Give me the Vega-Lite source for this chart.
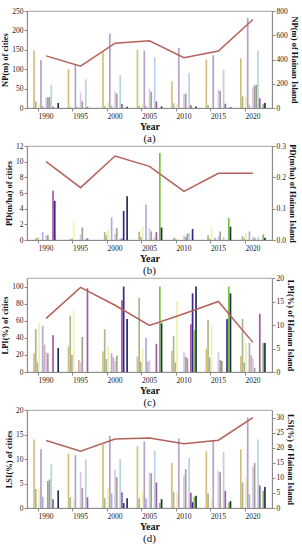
{
  "$schema": "https://vega.github.io/schema/vega-lite/v6.json",
  "padding": {"left": 0, "top": 6, "right": 0, "bottom": 0},
  "spacing": 38,
  "bounds": "flush",
  "config": {
    "font": "Liberation Serif",
    "view": {"stroke": "#8a8a8a", "strokeWidth": 0.8},
    "axis": {"labelFont": "Liberation Serif", "titleFont": "Liberation Serif", "labelFontSize": 7.5, "titleFontSize": 8.5, "titleFontWeight": "bold", "labelColor": "#222222", "titleColor": "#111111", "domainColor": "#8a8a8a", "tickColor": "#8a8a8a", "tickSize": 3, "grid": false, "labelPadding": 1, "titlePadding": 2},
    "title": {"font": "Liberation Serif", "fontSize": 11, "fontWeight": "normal", "orient": "bottom", "offset": 1, "color": "#111111"},
    "bar": {"stroke": null}
  },
  "datasets": {
    "aBars": [
      {"y":"1990","c":"01","v":148},{"y":"1990","c":"02","v":17},{"y":"1990","c":"04","v":10},{"y":"1990","c":"05","v":124},{"y":"1990","c":"06","v":5},{"y":"1990","c":"08","v":27},{"y":"1990","c":"09","v":28},{"y":"1990","c":"10","v":28},{"y":"1990","c":"11","v":60},{"y":"1990","c":"12","v":3},{"y":"1990","c":"15","v":13},
      {"y":"1995","c":"01","v":100},{"y":"1995","c":"02","v":3},{"y":"1995","c":"05","v":112},{"y":"1995","c":"06","v":3},{"y":"1995","c":"08","v":40},{"y":"1995","c":"09","v":17},{"y":"1995","c":"11","v":74},{"y":"1995","c":"12","v":3},
      {"y":"2000","c":"01","v":145},{"y":"2000","c":"02","v":5},{"y":"2000","c":"04","v":15},{"y":"2000","c":"05","v":192},{"y":"2000","c":"06","v":6},{"y":"2000","c":"08","v":43},{"y":"2000","c":"09","v":37},{"y":"2000","c":"11","v":85},{"y":"2000","c":"12","v":10},{"y":"2000","c":"15","v":3},
      {"y":"2005","c":"01","v":150},{"y":"2005","c":"02","v":5},{"y":"2005","c":"04","v":10},{"y":"2005","c":"05","v":148},{"y":"2005","c":"06","v":5},{"y":"2005","c":"08","v":50},{"y":"2005","c":"09","v":42},{"y":"2005","c":"11","v":130},{"y":"2005","c":"12","v":17},{"y":"2005","c":"15","v":4},
      {"y":"2010","c":"01","v":68},{"y":"2010","c":"02","v":12},{"y":"2010","c":"04","v":10},{"y":"2010","c":"05","v":155},{"y":"2010","c":"08","v":37},{"y":"2010","c":"09","v":37},{"y":"2010","c":"11","v":90},{"y":"2010","c":"12","v":7},{"y":"2010","c":"15","v":4},
      {"y":"2015","c":"01","v":125},{"y":"2015","c":"02","v":8},{"y":"2015","c":"04","v":5},{"y":"2015","c":"05","v":136},{"y":"2015","c":"08","v":48},{"y":"2015","c":"09","v":44},{"y":"2015","c":"11","v":98},{"y":"2015","c":"12","v":11},{"y":"2015","c":"15","v":2},
      {"y":"2020","c":"01","v":128},{"y":"2020","c":"02","v":30},{"y":"2020","c":"04","v":29},{"y":"2020","c":"05","v":232},{"y":"2020","c":"06","v":8},{"y":"2020","c":"08","v":53},{"y":"2020","c":"09","v":58},{"y":"2020","c":"10","v":60},{"y":"2020","c":"11","v":148},{"y":"2020","c":"12","v":25},{"y":"2020","c":"14","v":10},{"y":"2020","c":"15","v":13}
    ],
    "aLine": [{"y":"1990","v":430},{"y":"1995","v":345},{"y":"2000","v":535},{"y":"2005","v":555},{"y":"2010","v":415},{"y":"2015","v":470},{"y":"2020","v":730}],
    "bBars": [
      {"y":"1990","c":"02","v":0.2},{"y":"1990","c":"03","v":0.3},{"y":"1990","c":"04","v":0.4},{"y":"1990","c":"06","v":1.0},{"y":"1990","c":"08","v":0.6},{"y":"1990","c":"09","v":0.6},{"y":"1990","c":"12","v":6.3},{"y":"1990","c":"13","v":5.0},
      {"y":"1995","c":"02","v":0.1},{"y":"1995","c":"03","v":0.2},{"y":"1995","c":"04","v":2.4},{"y":"1995","c":"08","v":0.7},{"y":"1995","c":"09","v":1.6},{"y":"1995","c":"11","v":0.2},{"y":"1995","c":"12","v":0.2},
      {"y":"2000","c":"02","v":1.0},{"y":"2000","c":"03","v":0.6},{"y":"2000","c":"04","v":1.3},{"y":"2000","c":"06","v":2.9},{"y":"2000","c":"08","v":0.8},{"y":"2000","c":"09","v":1.5},{"y":"2000","c":"11","v":0.3},{"y":"2000","c":"12","v":0.2},{"y":"2000","c":"13","v":3.7},{"y":"2000","c":"15","v":5.6},
      {"y":"2005","c":"02","v":1.1},{"y":"2005","c":"03","v":0.4},{"y":"2005","c":"04","v":1.7},{"y":"2005","c":"06","v":4.5},{"y":"2005","c":"08","v":1.5},{"y":"2005","c":"09","v":1.1},{"y":"2005","c":"11","v":0.4},{"y":"2005","c":"12","v":1.0},{"y":"2005","c":"14","v":11.1},{"y":"2005","c":"15","v":1.6},
      {"y":"2010","c":"02","v":0.3},{"y":"2010","c":"03","v":0.2},{"y":"2010","c":"04","v":0.3},{"y":"2010","c":"08","v":0.6},{"y":"2010","c":"09","v":0.4},{"y":"2010","c":"10","v":0.8},{"y":"2010","c":"11","v":0.9},{"y":"2010","c":"13","v":1.4},
      {"y":"2015","c":"02","v":0.6},{"y":"2015","c":"03","v":0.2},{"y":"2015","c":"04","v":1.7},{"y":"2015","c":"06","v":0.3},{"y":"2015","c":"08","v":0.5},{"y":"2015","c":"09","v":1.1},{"y":"2015","c":"11","v":0.4},{"y":"2015","c":"14","v":2.8},{"y":"2015","c":"15","v":1.7},
      {"y":"2020","c":"02","v":0.5},{"y":"2020","c":"03","v":0.2},{"y":"2020","c":"04","v":0.9},{"y":"2020","c":"06","v":1.1},{"y":"2020","c":"08","v":0.4},{"y":"2020","c":"09","v":0.3},{"y":"2020","c":"11","v":0.4},{"y":"2020","c":"14","v":0.7},{"y":"2020","c":"15","v":0.3}
    ],
    "bLine": [{"y":"1990","v":0.25},{"y":"1995","v":0.167},{"y":"2000","v":0.268},{"y":"2005","v":0.235},{"y":"2010","v":0.155},{"y":"2015","v":0.213},{"y":"2020","v":0.213}],
    "cBars": [
      {"y":"1990","c":"01","v":22},{"y":"1990","c":"02","v":50},{"y":"1990","c":"03","v":11},{"y":"1990","c":"04","v":57},{"y":"1990","c":"06","v":54},{"y":"1990","c":"07","v":32},{"y":"1990","c":"08","v":23},{"y":"1990","c":"09","v":22},{"y":"1990","c":"12","v":43},{"y":"1990","c":"15","v":28},
      {"y":"1995","c":"01","v":30},{"y":"1995","c":"02","v":66},{"y":"1995","c":"03","v":20},{"y":"1995","c":"04","v":72},{"y":"1995","c":"07","v":14},{"y":"1995","c":"08","v":11},{"y":"1995","c":"09","v":41},{"y":"1995","c":"12","v":98},
      {"y":"2000","c":"01","v":24},{"y":"2000","c":"02","v":50},{"y":"2000","c":"03","v":15},{"y":"2000","c":"04","v":30},{"y":"2000","c":"06","v":22},{"y":"2000","c":"07","v":17},{"y":"2000","c":"08","v":13},{"y":"2000","c":"09","v":19},{"y":"2000","c":"12","v":84},{"y":"2000","c":"13","v":100},{"y":"2000","c":"15","v":62},
      {"y":"2005","c":"01","v":18},{"y":"2005","c":"02","v":87},{"y":"2005","c":"03","v":12},{"y":"2005","c":"04","v":27},{"y":"2005","c":"06","v":40},{"y":"2005","c":"07","v":12},{"y":"2005","c":"08","v":14},{"y":"2005","c":"12","v":33},{"y":"2005","c":"14","v":100},{"y":"2005","c":"15","v":57},
      {"y":"2010","c":"01","v":25},{"y":"2010","c":"02","v":42},{"y":"2010","c":"03","v":11},{"y":"2010","c":"04","v":83},{"y":"2010","c":"08","v":23},{"y":"2010","c":"09","v":18},{"y":"2010","c":"10","v":16},{"y":"2010","c":"12","v":56},{"y":"2010","c":"13","v":92},{"y":"2010","c":"14","v":49},{"y":"2010","c":"15","v":100},
      {"y":"2015","c":"01","v":27},{"y":"2015","c":"02","v":61},{"y":"2015","c":"03","v":17},{"y":"2015","c":"04","v":55},{"y":"2015","c":"08","v":23},{"y":"2015","c":"09","v":14},{"y":"2015","c":"10","v":13},{"y":"2015","c":"13","v":62},{"y":"2015","c":"14","v":100},{"y":"2015","c":"15","v":92},
      {"y":"2020","c":"01","v":19},{"y":"2020","c":"02","v":62},{"y":"2020","c":"03","v":11},{"y":"2020","c":"04","v":34},{"y":"2020","c":"06","v":34},{"y":"2020","c":"07","v":20},{"y":"2020","c":"08","v":16},{"y":"2020","c":"09","v":5},{"y":"2020","c":"12","v":68},{"y":"2020","c":"14","v":34},{"y":"2020","c":"15","v":34}
    ],
    "cLine": [{"y":"1990","v":11.4},{"y":"1995","v":18},{"y":"2000","v":14.2},{"y":"2005","v":9.9},{"y":"2010","v":12.4},{"y":"2015","v":15},{"y":"2020","v":6.3}],
    "dBars": [
      {"y":"1990","c":"01","v":14},{"y":"1990","c":"02","v":3.9},{"y":"1990","c":"04","v":3.9},{"y":"1990","c":"05","v":12},{"y":"1990","c":"06","v":2.3},{"y":"1990","c":"09","v":5.5},{"y":"1990","c":"10","v":5.8},{"y":"1990","c":"11","v":9},{"y":"1990","c":"12","v":1.8},{"y":"1990","c":"15","v":3.6},
      {"y":"1995","c":"01","v":11.1},{"y":"1995","c":"02","v":2.2},{"y":"1995","c":"04","v":1.7},{"y":"1995","c":"05","v":10.8},{"y":"1995","c":"08","v":7.4},{"y":"1995","c":"09","v":4.1},{"y":"1995","c":"11","v":9.9},{"y":"1995","c":"12","v":2.2},
      {"y":"2000","c":"01","v":13},{"y":"2000","c":"02","v":2},{"y":"2000","c":"04","v":4.2},{"y":"2000","c":"05","v":14.7},{"y":"2000","c":"06","v":3},{"y":"2000","c":"08","v":7.8},{"y":"2000","c":"09","v":6.3},{"y":"2000","c":"11","v":10},{"y":"2000","c":"12","v":3.2},{"y":"2000","c":"13","v":1.0},{"y":"2000","c":"15","v":2.0},
      {"y":"2005","c":"01","v":12.6},{"y":"2005","c":"02","v":2},{"y":"2005","c":"04","v":3.4},{"y":"2005","c":"05","v":13.6},{"y":"2005","c":"06","v":2},{"y":"2005","c":"08","v":7.3},{"y":"2005","c":"09","v":7.1},{"y":"2005","c":"11","v":11.7},{"y":"2005","c":"12","v":5.2},{"y":"2005","c":"14","v":1},{"y":"2005","c":"15","v":1.8},
      {"y":"2010","c":"01","v":9.2},{"y":"2010","c":"02","v":3.3},{"y":"2010","c":"04","v":3.2},{"y":"2010","c":"05","v":14.2},{"y":"2010","c":"08","v":6.7},{"y":"2010","c":"09","v":7.9},{"y":"2010","c":"11","v":10.2},{"y":"2010","c":"12","v":3.1},{"y":"2010","c":"13","v":1.2},{"y":"2010","c":"14","v":2.3},{"y":"2010","c":"15","v":2.5},
      {"y":"2015","c":"01","v":11.6},{"y":"2015","c":"02","v":3},{"y":"2015","c":"04","v":2},{"y":"2015","c":"05","v":13.8},{"y":"2015","c":"08","v":7.6},{"y":"2015","c":"09","v":7.3},{"y":"2015","c":"11","v":11.5},{"y":"2015","c":"12","v":3.5},{"y":"2015","c":"14","v":1.1},{"y":"2015","c":"15","v":1.4},
      {"y":"2020","c":"01","v":12},{"y":"2020","c":"02","v":5.2},{"y":"2020","c":"04","v":6.3},{"y":"2020","c":"05","v":18.5},{"y":"2020","c":"06","v":2.8},{"y":"2020","c":"08","v":8.4},{"y":"2020","c":"09","v":9.2},{"y":"2020","c":"11","v":14},{"y":"2020","c":"12","v":4.6},{"y":"2020","c":"14","v":3.5},{"y":"2020","c":"15","v":4.3}
    ],
    "dLine": [{"y":"1990","v":22.4},{"y":"1995","v":18.8},{"y":"2000","v":22.9},{"y":"2005","v":23.2},{"y":"2010","v":21.3},{"y":"2015","v":22.5},{"y":"2020","v":30}]
  },
  "vconcat": [
    {
      "width": 245, "height": 97,
      "title": {"text": "(a)"},
      "resolve": {"scale": {"y": "independent"}},
      "layer": [
        {"data": {"name": "aBars"}, "mark": {"type": "bar"},
         "encoding": {
           "x": {"field": "y", "type": "ordinal", "scale": {"paddingInner": 0.25, "paddingOuter": 0.18}, "axis": {"title": "Year", "titleFontSize": 10, "labelAngle": 0, "bandPosition": 0.2}},
           "xOffset": {"field": "c", "type": "nominal", "scale": {"domain": ["01","02","03","04","05","06","07","08","09","10","11","12","13","14","15"], "paddingInner": 0.02}},
           "y": {"field": "v", "type": "quantitative", "scale": {"domain": [0, 250]}, "axis": {"title": "NP(m) of cities", "values": [0,50,100,150,200,250]}},
           "color": {"field": "c", "type": "nominal", "scale": {"domain": ["01","02","03","04","05","06","07","08","09","10","11","12","13","14","15"], "range": ["#d3c07e","#a8b890","#b3ab9c","#eef1a6","#b8a1c8","#a8b0e2","#dba8a6","#d6c7ee","#a69f8c","#91a086","#b6d3e4","#a25aa5","#3f2394","#7cc241","#1f3150"]}, "legend": null}
         }},
        {"data": {"name": "aLine"}, "mark": {"type": "line", "color": "#b5605a", "strokeWidth": 1.5},
         "encoding": {
           "x": {"field": "y", "type": "ordinal"},
           "y": {"field": "v", "type": "quantitative", "scale": {"domain": [0, 800]}, "axis": {"orient": "right", "title": "NP(m) of Hainan Island", "values": [0,200,400,600,800]}}
         }}
      ]
    },
    {
      "width": 245, "height": 94,
      "title": {"text": "(b)"},
      "resolve": {"scale": {"y": "independent"}},
      "layer": [
        {"data": {"name": "bBars"}, "mark": {"type": "bar"},
         "encoding": {
           "x": {"field": "y", "type": "ordinal", "scale": {"paddingInner": 0.25, "paddingOuter": 0.18}, "axis": {"title": "Year", "titleFontSize": 10, "labelAngle": 0, "bandPosition": 0.2}},
           "xOffset": {"field": "c", "type": "nominal", "scale": {"domain": ["01","02","03","04","05","06","07","08","09","10","11","12","13","14","15"], "paddingInner": 0.02}},
           "y": {"field": "v", "type": "quantitative", "scale": {"domain": [0, 12], "nice": false}, "axis": {"title": "PD(m/ha) of cities", "values": [0,2,4,6,8,10,12]}},
           "color": {"field": "c", "type": "nominal", "legend": null}
         }},
        {"data": {"name": "bLine"}, "mark": {"type": "line", "color": "#b5605a", "strokeWidth": 1.5},
         "encoding": {
           "x": {"field": "y", "type": "ordinal"},
           "y": {"field": "v", "type": "quantitative", "scale": {"domain": [0, 0.3], "nice": false}, "axis": {"orient": "right", "title": "PD(m/ha) of Hainan Island", "values": [0,0.1,0.2,0.3], "format": ".1f"}}
         }}
      ]
    },
    {
      "width": 245, "height": 94,
      "title": {"text": "(c)"},
      "resolve": {"scale": {"y": "independent"}},
      "layer": [
        {"data": {"name": "cBars"}, "mark": {"type": "bar"},
         "encoding": {
           "x": {"field": "y", "type": "ordinal", "scale": {"paddingInner": 0.25, "paddingOuter": 0.18}, "axis": {"title": "Year", "titleFontSize": 10, "labelAngle": 0, "bandPosition": 0.2}},
           "xOffset": {"field": "c", "type": "nominal", "scale": {"domain": ["01","02","03","04","05","06","07","08","09","10","11","12","13","14","15"], "paddingInner": 0.02}},
           "y": {"field": "v", "type": "quantitative", "scale": {"domain": [0, 110], "nice": false}, "axis": {"title": "LPI(%) of cities", "values": [0,20,40,60,80,100]}},
           "color": {"field": "c", "type": "nominal", "legend": null}
         }},
        {"data": {"name": "cLine"}, "mark": {"type": "line", "color": "#b5605a", "strokeWidth": 1.5},
         "encoding": {
           "x": {"field": "y", "type": "ordinal"},
           "y": {"field": "v", "type": "quantitative", "scale": {"domain": [0, 20]}, "axis": {"orient": "right", "title": "LPI(%) of Hainan Island", "values": [0,5,10,15,20]}}
         }}
      ]
    },
    {
      "width": 245, "height": 98,
      "title": {"text": "(d)"},
      "resolve": {"scale": {"y": "independent"}},
      "layer": [
        {"data": {"name": "dBars"}, "mark": {"type": "bar"},
         "encoding": {
           "x": {"field": "y", "type": "ordinal", "scale": {"paddingInner": 0.25, "paddingOuter": 0.18}, "axis": {"title": "Year", "titleFontSize": 10, "labelAngle": 0, "bandPosition": 0.2}},
           "xOffset": {"field": "c", "type": "nominal", "scale": {"domain": ["01","02","03","04","05","06","07","08","09","10","11","12","13","14","15"], "paddingInner": 0.02}},
           "y": {"field": "v", "type": "quantitative", "scale": {"domain": [0, 20]}, "axis": {"title": "LSI(%) of cities", "values": [0,5,10,15,20]}},
           "color": {"field": "c", "type": "nominal", "legend": null}
         }},
        {"data": {"name": "dLine"}, "mark": {"type": "line", "color": "#b5605a", "strokeWidth": 1.5},
         "encoding": {
           "x": {"field": "y", "type": "ordinal"},
           "y": {"field": "v", "type": "quantitative", "scale": {"domain": [0, 32.5], "nice": false}, "axis": {"orient": "right", "title": "LSI(%) of Hainan Island", "values": [0,5,10,15,20,25,30]}}
         }}
      ]
    }
  ]
}
